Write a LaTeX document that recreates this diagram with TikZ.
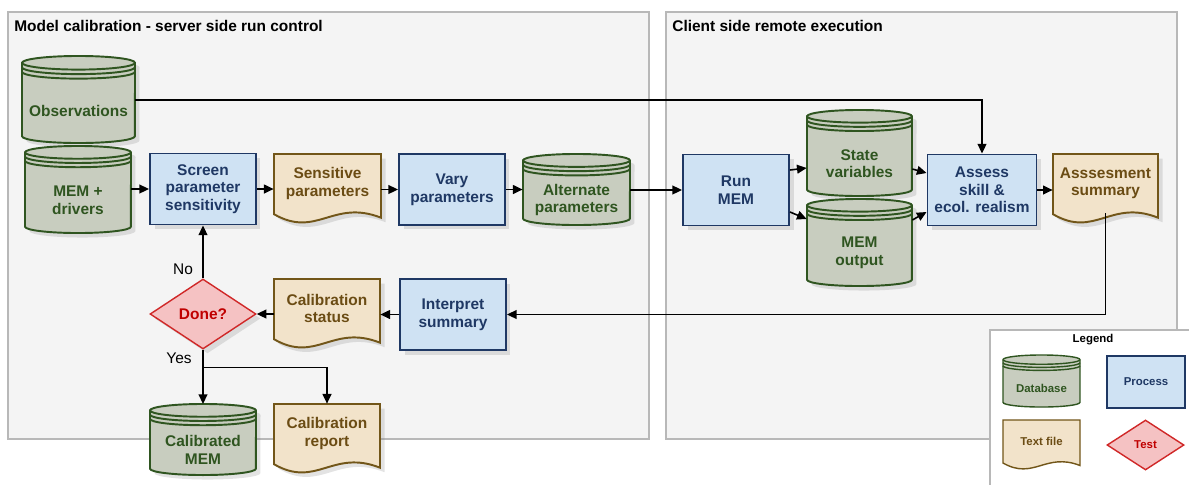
\documentclass[tikz,border=0pt]{standalone}
\usepackage{fontspec}
\setmainfont{Liberation Sans}
\usepackage{tikz}
\usetikzlibrary{arrows.meta}
\usetikzlibrary{positioning}
\usetikzlibrary{shadows}
\usetikzlibrary{shapes.geometric}

\definecolor{panelfill}{HTML}{F4F4F4}
\definecolor{paneldraw}{HTML}{B8B8B8}
\definecolor{procfill}{HTML}{CFE2F3}
\definecolor{procdraw}{HTML}{1F3864}
\definecolor{dbfill}{HTML}{C8CDBF}
\definecolor{dbdraw}{HTML}{2F5520}
\definecolor{filefill}{HTML}{F2E3CA}
\definecolor{filedraw}{HTML}{725619}
\definecolor{filetext}{HTML}{6B4C14}
\definecolor{testfill}{HTML}{F5C2C3}
\definecolor{testdraw}{HTML}{D02828}
\definecolor{testtext}{HTML}{C00000}

\tikzset{
  boxfont/.style={font=\fontsize{8.8}{10}\selectfont\bfseries, align=center},
  legfont/.style={font=\fontsize{6.5}{8}\selectfont\bfseries, align=center},
  shapeshadow/.style={drop shadow={opacity=0.22, shadow xshift=0.09cm, shadow yshift=-0.09cm}},
  shapeline/.style={line width=1.1pt},
  process/.style={draw=procdraw, fill=procfill, shapeline, text=procdraw, inner sep=0pt,
    minimum width=2.12cm, minimum height=1.42cm, boxfont, shapeshadow},
  test/.style={diamond, aspect=1.5, draw=testdraw, fill=testfill, line width=0.8pt,
    text=testtext, inner sep=0pt, boxfont, shapeshadow},
  dbshape/.style={draw=dbdraw, fill=dbfill, shapeline},
  fileshape/.style={draw=filedraw, fill=filefill, shapeline},
  panel/.style={draw=paneldraw, fill=panelfill, line width=1pt},
  paneltitle/.style={anchor=base west, inner sep=0pt, font=\fontsize{8.8}{10}\selectfont\bfseries},
  flowlabel/.style={font=\fontsize{8.8}{10}\selectfont},
  flow/.style={line width=0.9pt}
}

% database: [text style] name, left, top, width, height, text (pixels)
\newcommand{\dbnode}[7][boxfont]{%
  \path[dbshape, shapeshadow] (#3,#4+0.06*#5) -- (#3,#4+#6-0.06*#5)
    arc[start angle=180, end angle=360, x radius={#5*0.01cm}, y radius={#5*0.0012cm}]
    -- (#3+#5,#4+0.06*#5)
    arc[start angle=0, end angle=180, x radius={#5*0.01cm}, y radius={#5*0.0012cm}] -- cycle;
  \foreach \dy in {0,0.04,0.08}
    \draw[dbshape, fill=none] (#3,#4+0.06*#5+\dy*#5)
      arc[start angle=180, end angle=360, x radius={#5*0.01cm}, y radius={#5*0.0012cm}];
  \coordinate (#2top) at (#3+#5/2,#4);
  \node[#1, text=dbdraw, inner sep=0pt, minimum width={#5*0.02cm}, minimum height={(#6-0.2*#5)*0.02cm}]
    (#2) at (#3+#5/2,#4+#6/2+0.1*#5) {#7};
}

% text file: [text style] name, left, top, width, height, text (pixels)
\newcommand{\filenode}[7][boxfont]{%
  \path[fileshape, shapeshadow] (#3,#4) -- (#3+#5,#4) -- (#3+#5,#4+0.91*#6)
    .. controls (#3+0.55*#5,#4+0.64*#6) and (#3+0.4*#5,#4+1.21*#6) .. (#3,#4+0.86*#6) -- cycle;
  \node[#1, text=filetext, inner sep=0pt, minimum width={#5*0.02cm}, minimum height={0.84*#6*0.02cm}]
    (#2) at (#3+#5/2,#4+0.42*#6) {#7};
}

\begin{document}
\begin{tikzpicture}[x=0.02cm, y=-0.02cm, >={Triangle[length=5.5pt,width=5pt]}]
	\useasboundingbox (0,0) rectangle (1189,484);

	% panels
	\draw[panel] (8,12) rectangle (649,439);
	\draw[panel] (666,12) rectangle (1177,439);
	\node[paneltitle] (servertitle) at (14,31.5) {Model calibration - server side run control};
	\node[paneltitle] (clienttitle) at (672,31.5) {Client side remote execution};

	% server side
	\dbnode{obs}{22}{56}{113}{87}{Observations}
	\dbnode{memdrv}{25}{146}{106}{87}{MEM +\\drivers}
	\node[process] (screen) at (203,189) {Screen\\parameter\\sensitivity};
	\filenode{sensitive}{274}{154}{107}{70}{Sensitive\\parameters}
	\node[process] (vary) at (452,189.5) {Vary\\parameters};
	\dbnode{altparams}{523}{154}{107}{71}{Alternate\\parameters}
	\node[test, minimum width=2.12cm, minimum height=1.4cm] (done) at (203,314) {Done?};
	\filenode{calstatus}{274}{279}{106}{70}{Calibration\\status}
	\node[process] (interpret) at (453,314.5) {Interpret\\summary};
	\dbnode{calmem}{150}{404}{106}{71}{Calibrated\\MEM}
	\filenode{calreport}{274}{404}{106}{70}{Calibration\\report}

	% client side
	\node[process] (runmem) at (736,190) {Run\\MEM};
	\dbnode{statevars}{807}{110}{105}{86}{State\\variables}
	\dbnode{memout}{807}{199}{105}{87}{MEM\\output}
	\node[process, minimum width=2.18cm] (assess) at (982,190) {Assess\\skill \&\\ecol. realism};
	\filenode{summary}{1053}{154}{105}{70}{Asssesment\\summary}

	% flow
	\draw[flow,->] ([yshift=0.216cm]obs.east) -| (assess.north);
	\draw[flow,->] (memdrv.east |- screen.west) -- (screen.west);
	\draw[flow,->] (screen.east) -- (screen.east -| sensitive.west);
	\draw[flow,->] (sensitive.east |- vary.west) -- (vary.west);
	\draw[flow,->] (vary.east) -- (vary.east -| altparams.west);
	\draw[flow,->] (altparams.east |- runmem.west) -- (runmem.west);
	\draw[flow,->] ([yshift=0.4cm]runmem.east) -- ([yshift=-0.09cm]statevars.west);
	\draw[flow,->] ([yshift=-0.44cm]runmem.east) -- ([yshift=0.68cm]memout.west);
	\draw[flow,->] ([yshift=-0.11cm]statevars.east) -- ([yshift=0.34cm]assess.west);
	\draw[flow,->] ([yshift=0.66cm]memout.east) -- ([yshift=-0.44cm]assess.west);
	\draw[flow,->] (assess.east) -- (assess.east -| summary.west);
	\draw[flow,->] (summary.south) |- (interpret.east);
	\draw[flow,->] (interpret.west) -- (interpret.west -| calstatus.east);
	\draw[flow,->] (calstatus.west |- done.east) -- (done.east);
	\draw[flow,->] (done.north) -- (screen.south);
	\coordinate[below=0.36cm of done.south] (split);
	\draw[flow,->] (done.south) -- (split) -- (calmemtop);
	\draw[flow,->] (split) -| (calreport.north);

	\node[flowlabel] (nolabel) at (183,269) {No};
	\node[flowlabel] (yeslabel) at (179,358) {Yes};

	% legend
	\begin{scope}[shapeshadow/.style={}, shapeline/.style={line width=0.8pt}]
		\draw[draw=paneldraw, fill=white, line width=1pt] (990,330) rectangle (1200,500);
		\node[legfont] (legendtitle) at (1093,340) {Legend};
		\dbnode[legfont]{legdb}{1003}{355}{77}{52}{Database}
		\node[process, legfont, minimum width=1.56cm, minimum height=1.04cm] (legproc) at (1146,382) {Process};
		\filenode[legfont]{legfile}{1003}{420}{77}{50}{Text file}
		\node[test, legfont, minimum width=1.54cm, minimum height=1cm] (legtest) at (1145.5,445) {Test};
	\end{scope}
\end{tikzpicture}
\end{document}
